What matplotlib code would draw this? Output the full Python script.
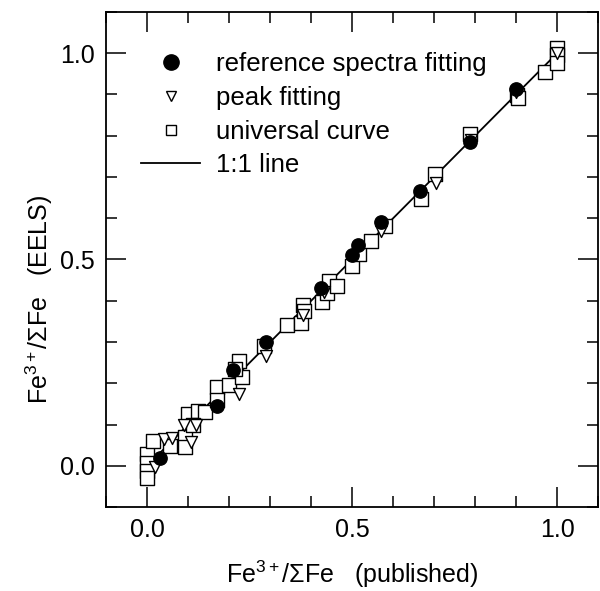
import numpy as np
import matplotlib
matplotlib.use('Agg')
from matplotlib import pyplot as plt
from matplotlib.lines import Line2D
from matplotlib.ticker import MultipleLocator, FormatStrFormatter

plt.rcParams['font.family'] = ['Liberation Sans', 'DejaVu Sans']
plt.rcParams['mathtext.fontset'] = 'custom'
plt.rcParams['mathtext.rm'] = 'Liberation Sans'
plt.rcParams['mathtext.it'] = 'Liberation Sans:italic'

# reference spectra fitting (filled circles)
ref_x = [0.03, 0.17, 0.21, 0.29, 0.425, 0.50, 0.515, 0.57, 0.665, 0.787, 0.90]
ref_y = [0.018, 0.145, 0.232, 0.30, 0.43, 0.51, 0.535, 0.59, 0.665, 0.785, 0.912]

# peak fitting (open triangles)
peak_x = [0.018, 0.04, 0.06, 0.09, 0.107, 0.12, 0.225, 0.29, 0.38, 0.43,
          0.57, 0.705, 0.79, 0.90, 1.0]
peak_y = [-0.004, 0.065, 0.068, 0.10, 0.058, 0.10, 0.175, 0.265, 0.365, 0.42,
          0.57, 0.685, 0.79, 0.905, 1.0]

# universal curve (open squares)
uni_x = [0.0, 0.0, 0.0, 0.0, 0.015, 0.055, 0.092, 0.092, 0.10, 0.123, 0.14,
         0.111, 0.17, 0.17, 0.20, 0.223, 0.23, 0.215, 0.285, 0.342, 0.375,
         0.379, 0.383, 0.427, 0.439, 0.444, 0.462, 0.499, 0.517, 0.545, 0.581,
         0.668, 0.703, 0.788, 0.902, 0.905, 0.971, 1.0, 1.0, 1.0]
uni_y = [0.028, 0.008, -0.013, -0.03, 0.061, 0.049, 0.069, 0.045, 0.126, 0.134,
         0.13, 0.10, 0.191, 0.159, 0.195, 0.254, 0.215, 0.235, 0.29, 0.341,
         0.345, 0.39, 0.374, 0.398, 0.419, 0.447, 0.435, 0.484, 0.512, 0.545,
         0.581, 0.646, 0.707, 0.805, 0.898, 0.89, 0.955, 1.012, 0.996, 0.976]

line_x = [0.0, 1.0]

fig = plt.figure(figsize=(6.0, 5.91), dpi=100)
ax = fig.add_axes([0.177, 0.142, 0.820, 0.838])

ax.plot(line_x, line_x, color='black', lw=1.3, zorder=1)
ax.scatter(uni_x, uni_y, marker='s', s=9.4 ** 2, facecolors='white',
           edgecolors='black', linewidths=1.0, zorder=2)
ax.scatter(peak_x, peak_y, marker='v', s=8.6 ** 2, facecolors='white',
           edgecolors='black', linewidths=1.0, zorder=3)
ax.scatter(ref_x, ref_y, marker='o', s=9.6 ** 2, facecolors='black',
           edgecolors='black', linewidths=1.0, zorder=4)

ax.set_xlim(-0.1, 1.1)
ax.set_ylim(-0.1, 1.1)
for axis in (ax.xaxis, ax.yaxis):
    axis.set_major_locator(MultipleLocator(0.5))
    axis.set_minor_locator(MultipleLocator(0.1))
    axis.set_major_formatter(FormatStrFormatter('%.1f'))
ax.tick_params(which='both', direction='in', top=True, right=True,
               labelsize=18, width=1.1)
ax.tick_params(which='major', length=14.5, pad=8)
ax.tick_params(which='minor', length=8)
for sp in ax.spines.values():
    sp.set_linewidth(1.3)

ax.set_xlabel(r'Fe$^{3+}$/$\Sigma$Fe   (published)', fontsize=18, labelpad=12)
ax.set_ylabel(r'Fe$^{3+}$/$\Sigma$Fe   (EELS)', fontsize=18)
ax.yaxis.set_label_coords(-0.105, 0.42)

handles = [
    Line2D([], [], ls='none', marker='o', ms=11, mfc='black', mec='black'),
    Line2D([], [], ls='none', marker='v', ms=7.5, mfc='white', mec='black', mew=1.0),
    Line2D([], [], ls='none', marker='s', ms=7, mfc='white', mec='black', mew=1.0),
    Line2D([], [], color='black', lw=1.3),
]
labels = ['reference spectra fitting', 'peak fitting', 'universal curve', '1:1 line']
ax.legend(handles, labels, loc='upper left', frameon=False, fontsize=18.6,
          bbox_to_anchor=(141 / 600, 1 - 52 / 591), bbox_transform=fig.transFigure,
          borderpad=0, borderaxespad=0, handlelength=2.3, handletextpad=0.6,
          labelspacing=0.38)

fig.savefig('out.png', dpi=100)
